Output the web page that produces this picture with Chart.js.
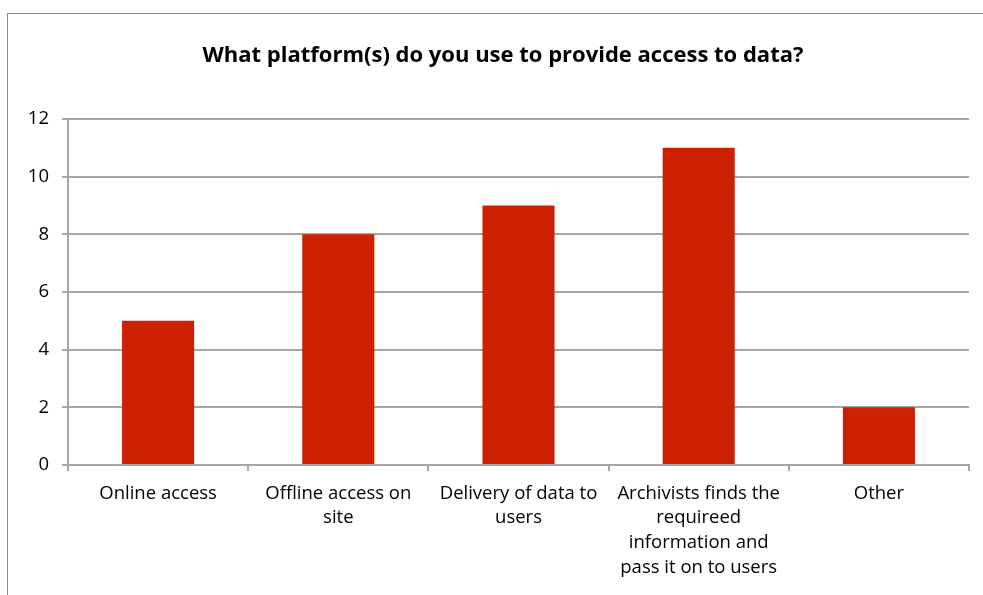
<!DOCTYPE html>
<html>
<head>
<meta charset="utf-8">
<script src="https://cdn.jsdelivr.net/npm/chart.js@4/dist/chart.umd.min.js"></script>
<style>
  html, body { margin: 0; padding: 0; background: #fff; overflow: hidden; width: 983px; height: 595px; }
  #frame { position: absolute; left: 7px; top: 13px; width: 976px; height: 582px; border-top: 1px solid #8c8c8c; border-left: 1px solid #8c8c8c; box-sizing: border-box; }
  #wrap { position: absolute; left: 8px; top: 14px; width: 975px; height: 581px; }
</style>
</head>
<body>
<div id="frame"></div>
<div id="wrap"><canvas id="c" width="975" height="581"></canvas></div>
<script>
const categories = [
  "Online access",
  ["Offline access on", "site"],
  ["Delivery of data to", "users"],
  ["Archivists finds the", "requireed", "information and", "pass it on to users"],
  "Other"
];
const values = [5, 8, 9, 11, 2];
const yTicks = [0, 2, 4, 6, 8, 10, 12];
const titleText = "What platform(s) do you use to provide access to data?";

const FONT = "'Open Sans', Lato, sans-serif";
const GRAY = '#a6a6a6';

// centre the title across the whole framed chart rather than the padded area
const titleSpan = {
  id: 'titleSpan',
  afterLayout(chart) {
    const t = chart.titleBlock;
    if (t) { t.left = 0; t.right = 990; }
  }
};

new Chart(document.getElementById('c'), {
  type: 'bar',
  data: {
    labels: categories,
    datasets: [{
      data: values,
      backgroundColor: '#cd2000',
      borderWidth: 0,
      barPercentage: 0.4,
      categoryPercentage: 1.0
    }]
  },
  plugins: [titleSpan],
  options: {
    responsive: false,
    animation: false,
    devicePixelRatio: 1,
    layout: { padding: { left: 0, right: 14, top: 0, bottom: 0 } },
    plugins: {
      legend: { display: false },
      tooltip: { enabled: false },
      title: {
        display: true,
        text: titleText,
        color: '#000',
        font: { family: FONT, size: 22, weight: 'bold', lineHeight: 1.2 },
        padding: { top: 29, bottom: 49.6 }
      }
    },
    scales: {
      x: {
        grid: {
          offset: true,
          drawOnChartArea: false,
          drawTicks: true,
          tickLength: 6,
          color: GRAY,
          lineWidth: 2
        },
        border: { color: GRAY, width: 2 },
        ticks: {
          color: '#000',
          font: { family: FONT, size: 18.5, lineHeight: 1.34 },
          padding: 10,
          maxRotation: 0,
          autoSkip: false
        },
        afterFit: (s) => { s.height = 130; }
      },
      y: {
        min: 0,
        max: 12,
        afterBuildTicks: (s) => { s.ticks = yTicks.map(v => ({ value: v })); },
        grid: {
          color: GRAY,
          lineWidth: 2,
          tickLength: 6
        },
        border: { color: GRAY, width: 2 },
        ticks: {
          color: '#000',
          font: { family: FONT, size: 18.5 },
          padding: 13
        },
        afterFit: (s) => { s.width = 60; }
      }
    }
  }
});
</script>
</body>
</html>
